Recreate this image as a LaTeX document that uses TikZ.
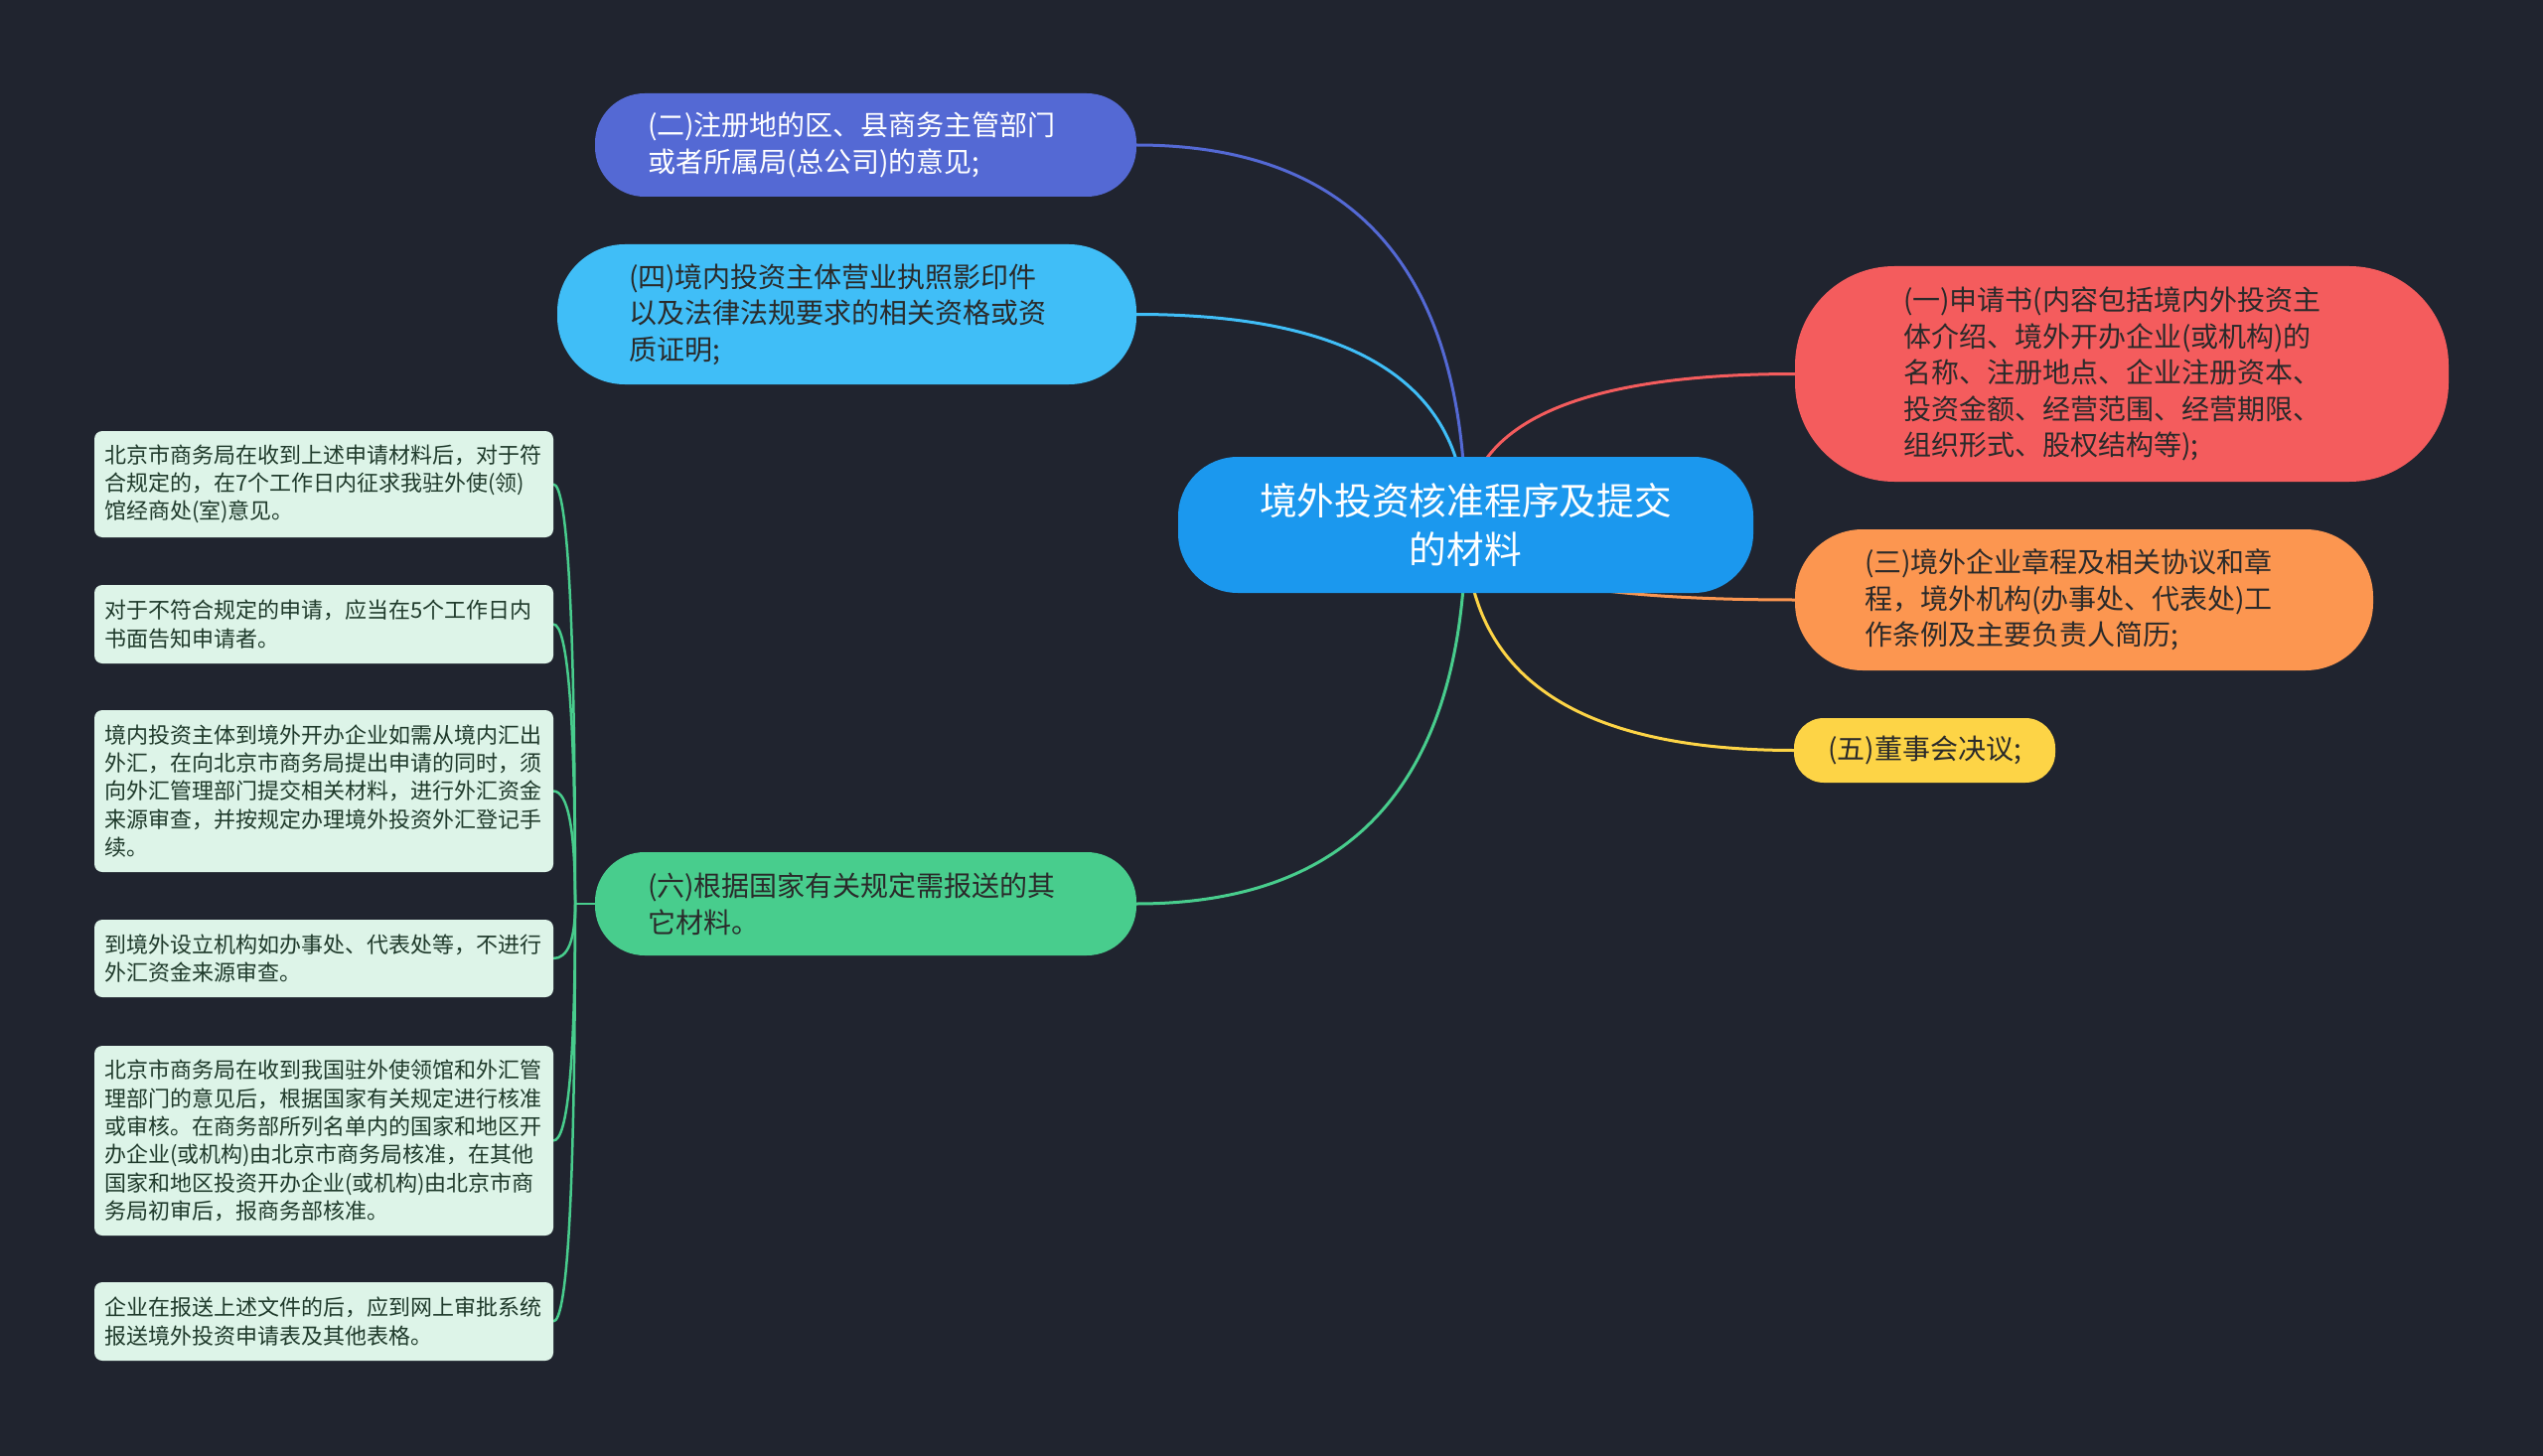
\documentclass[tikz,border=0pt]{standalone}
\usepackage{fontspec}
\setmainfont{Noto Sans CJK SC}
\usetikzlibrary{calc}
\definecolor{bgc}{HTML}{20242F}
\definecolor{cmain}{HTML}{1B98EE}
\definecolor{cone}{HTML}{F45C5D}
\definecolor{ctwo}{HTML}{5469D4}
\definecolor{cthree}{HTML}{FC9650}
\definecolor{cfour}{HTML}{40BEF7}
\definecolor{cfive}{HTML}{FDD446}
\definecolor{csix}{HTML}{48CD8D}
\definecolor{cleaf}{HTML}{DDF4E8}
\definecolor{cleaftext}{HTML}{1F3A2B}
\definecolor{cdark}{HTML}{2A2A2A}
\pgfdeclarelayer{bglayer}
\pgfdeclarelayer{edgelayer}
\pgfsetlayers{bglayer,edgelayer,main}
\tikzset{
  base/.style={rectangle, inner sep=0pt, outer sep=0pt},
  mainnode/.style={base, fill=cmain, text=white, rounded corners=30pt,
    minimum width=289.5pt, minimum height=68.5pt, align=center,
    font=\fontsize{18.85pt}{24.5pt}\selectfont},
  branch/.style={base, align=left, text width=219.5pt,
    font=\fontsize{14pt}{18.3pt}\selectfont},
  leafbox/.style={base, fill=cleaf, text=cleaftext, rounded corners=4pt,
    minimum width=231pt, text width=221pt, align=left,
    font=\fontsize{11pt}{14.15pt}\selectfont},
  link/.style={line width=1.5pt},
  leaflink/.style={line width=1.25pt, draw=csix},
}
\begin{document}
\begin{tikzpicture}[x=0.5pt,y=-0.5pt]
\begin{pgfonlayer}{bglayer}
\fill[bgc] (0,0) rectangle (2560,1466);
\end{pgfonlayer}
\useasboundingbox (0,0) rectangle (2560,1466);

% central node
\node[mainnode] (c) at (1475.5,528.5) {境外投资核准程序及提交\\的材料};

% right branches
\node[branch, fill=cone, text=cdark, rounded corners=50pt,
  minimum width=329pt, minimum height=108.5pt, text width=220pt] (n1) at (2136,376.5)
  {(一)申请书(内容包括境内外投资主\\体介绍、境外开办企业(或机构)的\\名称、注册地点、企业注册资本、\\投资金额、经营范围、经营期限、\\组织形式、股权结构等);};
\node[branch, fill=cthree, text=cdark, rounded corners=34pt,
  minimum width=291pt, minimum height=71pt, text width=221pt] (n3) at (2098,604)
  {(三)境外企业章程及相关协议和章\\程，境外机构(办事处、代表处)工\\作条例及主要负责人简历;};
\node[base, fill=cfive, text=cdark, rounded corners=15pt, align=center,
  minimum width=131.5pt, minimum height=32.5pt,
  font=\fontsize{14pt}{18.3pt}\selectfont] (n5) at (1937.5,755.5) {(五)董事会决议;};

% left branches
\node[branch, fill=ctwo, text=white, rounded corners=25pt,
  minimum width=272.5pt, minimum height=52pt] (n2) at (871.5,146)
  {(二)注册地的区、县商务主管部门\\或者所属局(总公司)的意见;};
\node[branch, fill=cfour, text=cdark, rounded corners=34pt,
  minimum width=291.5pt, minimum height=70.5pt] (n4) at (852.5,316.5)
  {(四)境内投资主体营业执照影印件\\以及法律法规要求的相关资格或资\\质证明;};
\node[branch, fill=csix, text=cdark, rounded corners=25pt,
  minimum width=272.5pt, minimum height=52pt] (n6) at (871.5,910)
  {(六)根据国家有关规定需报送的其\\它材料。};

% leaves
\node[leafbox, minimum height=53.5pt] (l1) at (326,487.5)
  {北京市商务局在收到上述申请材料后，对于符\\合规定的，在7个工作日内征求我驻外使(领)\\馆经商处(室)意见。};
\node[leafbox, minimum height=39.5pt] (l2) at (326,628.5)
  {对于不符合规定的申请，应当在5个工作日内\\书面告知申请者。};
\node[leafbox, minimum height=81.5pt] (l3) at (326,796.5)
  {境内投资主体到境外开办企业如需从境内汇出\\外汇，在向北京市商务局提出申请的同时，须\\向外汇管理部门提交相关材料，进行外汇资金\\来源审查，并按规定办理境外投资外汇登记手\\续。};
\node[leafbox, minimum height=39pt] (l4) at (326,965)
  {到境外设立机构如办事处、代表处等，不进行\\外汇资金来源审查。};
\node[leafbox, minimum height=95.5pt] (l5) at (326,1148.5)
  {北京市商务局在收到我国驻外使领馆和外汇管\\理部门的意见后，根据国家有关规定进行核准\\或审核。在商务部所列名单内的国家和地区开\\办企业(或机构)由北京市商务局核准，在其他\\国家和地区投资开办企业(或机构)由北京市商\\务局初审后，报商务部核准。};
\node[leafbox, minimum height=39.5pt] (l6) at (326,1330.5)
  {企业在报送上述文件的后，应到网上审批系统\\报送境外投资申请表及其他表格。};

% connectors
\begin{pgfonlayer}{edgelayer}
\foreach \n/\a/\col in {n2/east/ctwo, n4/east/cfour, n6/east/csix, n1/west/cone, n3/west/cthree, n5/west/cfive}{
  \coordinate (k) at (c.center |- \n.\a);
  \draw[link, draw=\col] (c.center) .. controls ($(c.center)!2/3!(k)$) and ($(\n.\a)!2/3!(k)$) .. (\n.\a);
}
\coordinate (hub) at (579,910);
\draw[leaflink] (n6.west) -- (hub);
\foreach \l in {l1,l2,l3,l4,l5,l6}{
  \coordinate (q) at (hub |- \l.east);
  \draw[leaflink] (hub) .. controls ($(hub)!2/3!(q)$) and ($(\l.east)!2/3!(q)$) .. (\l.east);
}
\end{pgfonlayer}
\end{tikzpicture}
\end{document}
